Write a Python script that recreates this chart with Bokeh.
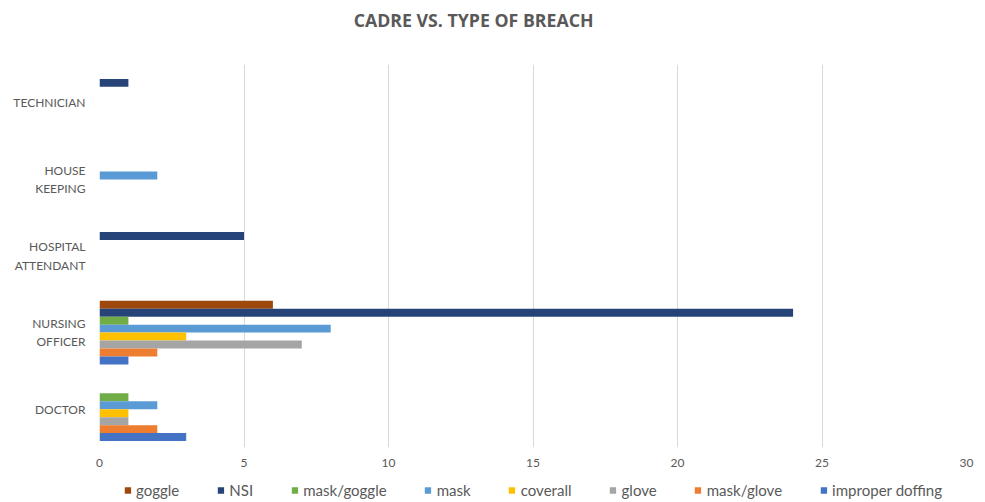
from bokeh.plotting import figure
from bokeh.models import ColumnDataSource, Range1d, FixedTicker, Legend, LegendItem, Label
from bokeh.layouts import column
from bokeh.transform import dodge
from bokeh.embed import file_html
from bokeh.resources import INLINE

title_text = "CADRE VS. TYPE OF BREACH"
cadres = ["DOCTOR", "NURSING\nOFFICER", "HOSPITAL\nATTENDANT", "HOUSE\nKEEPING", "TECHNICIAN"]
series_names = ["goggle", "NSI", "mask/goggle", "mask", "coverall", "glove", "mask/glove", "improper doffing"]
goggle = [0, 6, 0, 0, 0]
nsi = [0, 24, 5, 0, 1]
mask_goggle = [1, 1, 0, 0, 0]
mask = [2, 8, 0, 2, 0]
coverall = [1, 3, 0, 0, 0]
glove = [1, 7, 0, 0, 0]
mask_glove = [2, 2, 0, 0, 0]
improper_doffing = [3, 1, 0, 0, 0]
x_ticks = [0, 5, 10, 15, 20, 25, 30]

colors = ["#9E480E", "#264478", "#70AD47", "#5B9BD5", "#FFC000", "#A5A5A5", "#ED7D31", "#4472C4"]
series_values = [goggle, nsi, mask_goggle, mask, coverall, glove, mask_glove, improper_doffing]
keys = ["s%d" % i for i in range(len(series_names))]

W = 985

# ---- title strip ----
tt = figure(width=W, height=40, x_range=Range1d(0, W), y_range=Range1d(0, 40),
            output_backend="svg", toolbar_location=None,
            min_border_left=0, min_border_right=0, min_border_top=0, min_border_bottom=0,
            x_axis_location=None, y_axis_location=None)
tt.grid.grid_line_color = None
tt.outline_line_color = None
tt.add_layout(Label(x=425, y=21, text=title_text, text_align="center", text_baseline="middle",
                    text_font="Open Sans", text_font_size="13.3pt", text_font_style="bold",
                    text_color="#595959"))

# ---- main chart ----
UNIT = 100
pos = [i * UNIT for i in range(len(cadres))]
data = {"pos": pos}
for k, v in zip(keys, series_values):
    data[k] = v
source = ColumnDataSource(data)

p = figure(width=W, height=438, x_range=Range1d(0, 30),
           y_range=Range1d(-UNIT / 2, pos[-1] + UNIT / 2),
           output_backend="svg", toolbar_location=None,
           min_border_left=99, min_border_right=19, min_border_top=24, min_border_bottom=31)

h = 0.104 * UNIT
renderers = []
for i, k in enumerate(keys):
    off = (3.5 - i) * h
    r = p.hbar(y=dodge("pos", off), right=k, left=0, height=h,
               source=source, fill_color=colors[i], line_color=None)
    renderers.append(r)

p.xaxis.ticker = FixedTicker(ticks=x_ticks)
p.xaxis.axis_line_color = None
p.xaxis.major_tick_line_color = None
p.xaxis.minor_tick_line_color = None
p.xaxis.major_label_text_font = "Lato"
p.xaxis.major_label_text_font_size = "9pt"
p.xaxis.major_label_text_color = "#595959"

# multi-line category labels: one tick per text line
line_gap = 24
y_ticks = []
overrides = {}
for c, label in zip(pos, cadres):
    lines = label.split("\n")
    n = len(lines)
    for j, line in enumerate(lines):
        t = int(c + ((n - 1) / 2 - j) * line_gap)
        y_ticks.append(t)
        overrides[t] = line

p.yaxis.ticker = FixedTicker(ticks=y_ticks)
p.yaxis.major_label_overrides = overrides
p.yaxis.axis_line_color = None
p.yaxis.major_tick_line_color = None
p.yaxis.minor_tick_line_color = None
p.yaxis.major_label_text_font = "Lato"
p.yaxis.major_label_text_font_size = "9pt"
p.yaxis.major_label_text_color = "#595959"
p.yaxis.major_label_standoff = 8

p.xgrid.grid_line_color = "#D9D9D9"
p.ygrid.grid_line_color = None
p.outline_line_color = None

# ---- legend strip ----
lg = figure(width=W, height=24, x_range=Range1d(0, 30), y_range=Range1d(0, 1),
            output_backend="svg", toolbar_location=None,
            min_border_left=99, min_border_right=19, min_border_top=0, min_border_bottom=0,
            x_axis_location=None, y_axis_location=None)
lg.grid.grid_line_color = None
lg.outline_line_color = None
lg_renderers = []
for i, k in enumerate(keys):
    # zero-width proxy bar, only used to draw the legend swatch
    r = lg.hbar(y=[0.5], right=[0], left=[0], height=1, fill_color=colors[i], line_color=None)
    lg_renderers.append(r)

legend = Legend(items=[LegendItem(label=n, renderers=[r]) for n, r in zip(series_names, lg_renderers)],
                orientation="horizontal", location="center",
                label_text_font="Lato", label_text_font_size="11.3pt", label_text_color="#595959",
                glyph_width=8, glyph_height=8, label_standoff=5, spacing=37,
                border_line_color=None, background_fill_alpha=0, padding=0, margin=0)
lg.add_layout(legend)

layout = column(tt, p, lg, spacing=0)
open("out.html", "w").write(file_html(layout, INLINE))
